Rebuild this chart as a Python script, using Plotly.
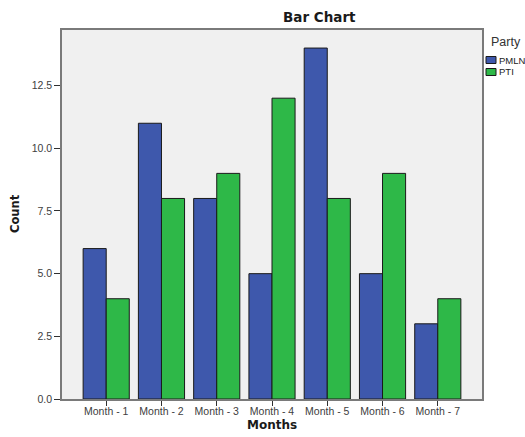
import plotly.graph_objects as go

months = ["Month - 1", "Month - 2", "Month - 3", "Month - 4", "Month - 5", "Month - 6", "Month - 7"]
pmln = [6, 11, 8, 5, 14, 5, 3]
pti = [4, 8, 9, 12, 8, 9, 4]
y_ticks = [0, 2.5, 5, 7.5, 10, 12.5]
y_tick_labels = ["0.0", "2.5", "5.0", "7.5", "10.0", "12.5"]

BLUE = "#3E58AC"
GREEN = "#2EB848"
FONT = "Liberation Sans, Arial, sans-serif"
BOLD = "DejaVu Sans, Verdana, sans-serif"

fig = go.Figure()
fig.add_trace(go.Bar(x=months, y=pmln, name="PMLN", marker=dict(color=BLUE, line=dict(color="#1a1a1a", width=1))))
fig.add_trace(go.Bar(x=months, y=pti, name="PTI", marker=dict(color=GREEN, line=dict(color="#1a1a1a", width=1))))

L, R, T, B = 62, 482, 30, 399
fig.update_layout(
    width=525, height=437,
    margin=dict(l=L, r=525 - R, t=T, b=437 - B, autoexpand=False),
    paper_bgcolor="white", plot_bgcolor="#F0F0F0",
    barmode="group", bargap=0.165, bargroupgap=0,
    showlegend=False,
    font=dict(family=FONT, size=10.5, color="#404040"),
)
fig.update_xaxes(
    range=[-0.8, 6.8], showgrid=False, showline=True, mirror=True, automargin=False,
    linecolor="#7a7a7a", linewidth=1.5, ticks="outside", ticklen=5, tickcolor="#303030",
    tickfont=dict(size=10.5, color="#404040", family=FONT), ticklabelstandoff=-3,
)
fig.update_yaxes(
    range=[0, 14.72], showgrid=False, zeroline=False, showline=True, mirror=True, automargin=False,
    linecolor="#7a7a7a", linewidth=1.5, ticks="outside", ticklen=6, tickcolor="#303030",
    tickvals=y_ticks, ticktext=y_tick_labels,
    tickfont=dict(size=10.5, color="#404040", family=FONT),
)

pw, ph = R - L, B - T
def px(xp):
    return (xp - L) / pw
def py(yp):
    return (B - yp) / ph

# Title and axis titles
fig.add_annotation(text="<b>Bar Chart</b>", xref="paper", yref="paper", x=px(319), y=py(17),
                   showarrow=False, font=dict(size=13.5, color="#1a1a1a", family=BOLD),
                   xanchor="center", yanchor="middle")
fig.add_annotation(text="<b>Months</b>", xref="paper", yref="paper", x=px(272), y=py(425),
                   showarrow=False, font=dict(size=12, color="#1a1a1a", family=BOLD),
                   xanchor="center", yanchor="middle")
fig.add_annotation(text="<b>Count</b>", xref="paper", yref="paper", x=px(15), y=py(214),
                   showarrow=False, textangle=-90, font=dict(size=11.5, color="#1a1a1a", family=BOLD),
                   xanchor="center", yanchor="middle")

# Manual legend
fig.add_annotation(text="Party", xref="paper", yref="paper", x=px(489), y=py(42),
                   showarrow=False, xanchor="left", yanchor="middle",
                   font=dict(size=12.5, color="#333", family=FONT))
for i, (nm, col) in enumerate([("PMLN", BLUE), ("PTI", GREEN)]):
    yc = 60 + i * 12
    fig.add_shape(type="rect", xref="paper", yref="paper",
                  x0=px(486), x1=px(496), y0=py(yc - 3.5), y1=py(yc + 3.5),
                  fillcolor=col, line=dict(color="#1a1a1a", width=1))
    fig.add_annotation(text=nm, xref="paper", yref="paper", x=px(496.5), y=py(yc),
                       showarrow=False, xanchor="left", yanchor="middle",
                       font=dict(size=9.5, color="#222", family=FONT))

fig.write_html("out.html", config={"displayModeBar": False},
               post_script="document.body.style.margin='0';document.body.style.overflow='hidden';")
